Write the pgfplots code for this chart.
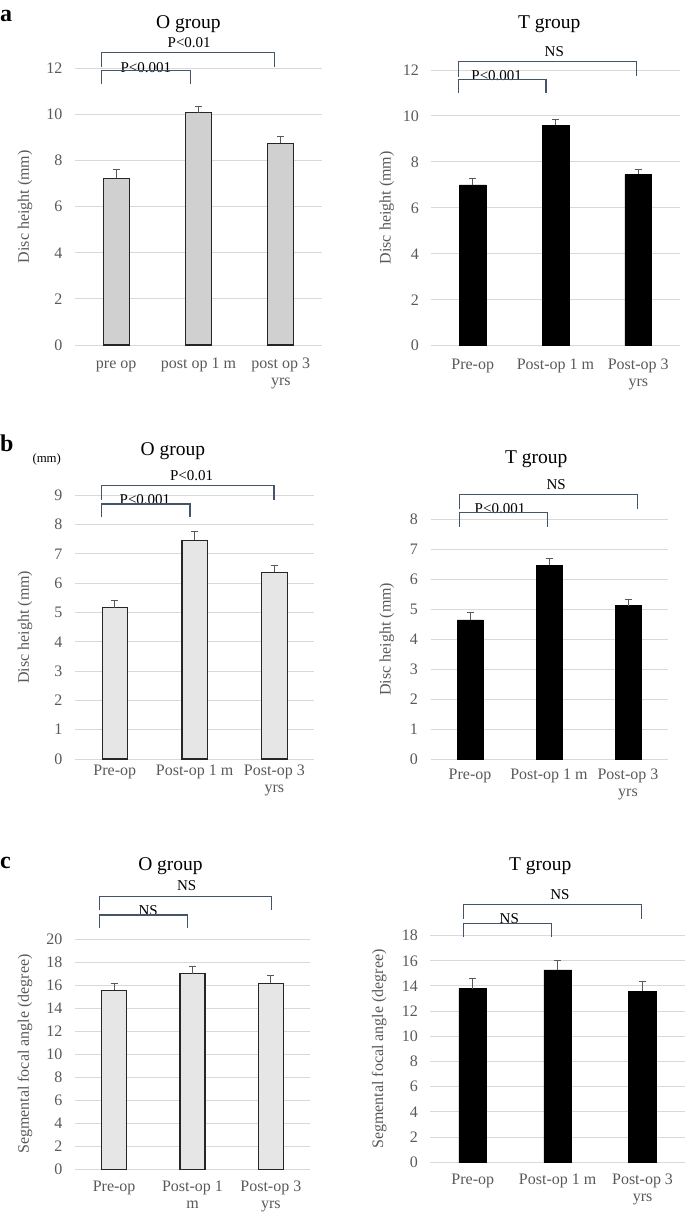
\documentclass[border=0pt]{standalone}
\usepackage{pgfplots}
\pgfplotsset{compat=1.18}
\usepackage{fontspec}
\setmainfont{Liberation Serif}
\definecolor{tickgray}{HTML}{595959}
\definecolor{gridgray}{HTML}{D9D9D9}
\definecolor{brkcol}{HTML}{44546A}
\definecolor{barA}{HTML}{D0D0D0}
\definecolor{barB}{HTML}{E7E6E6}

\pgfplotsset{
  panel/.style={
    scale only axis, anchor=south west, clip=false,
    xmin=-0.5, xmax=2.5, ymin=0, xtick={0,1,2},
    axis line style={draw=none}, major tick length=0pt,
    ymajorgrids, major grid style={gridgray, line width=1pt},
    tick label style={font=\fontsize{16}{17}\selectfont, text=tickgray},
    yticklabel style={xshift=-9pt},
    xticklabel style={align=center, anchor=north},
    /pgf/number format/assume math mode=true,
    every axis y label/.style={rotate=90, anchor=center,
      font=\fontsize{16}{18}\selectfont, text=tickgray},
  },
  errs/.style={
    error bars/y dir=plus, error bars/y explicit,
    error bars/error bar style={tickgray, line width=0.9pt},
    error bars/error mark options={rotate=90, tickgray, mark size=3.5pt, line width=0.9pt}},
  obar/.style={ybar, bar width=#1, fill=barA, draw=black!85, line width=1.1pt, errs},
  tbar/.style={ybar, bar width=#1, fill=black, draw=black, line width=0.5pt, errs},
}
\tikzset{
  brk/.style={brkcol, line width=1.2pt},
  ptxt/.style={anchor=base, font=\fontsize{15}{15}\selectfont},
}

\begin{document}
\begin{tikzpicture}
\useasboundingbox (0pt,0pt) rectangle (685pt,-1216pt);

% ---------- a, O group
\begin{axis}[panel, at={(75pt,-345pt)}, width=247pt, height=276.7pt,
  ymax=12, ytick={0,2,...,12},
  xticklabel style={yshift=-8pt},
  xticklabels={\strut pre op, \strut post op 1 m, {\strut post op 3\\yrs}},
  ylabel={Disc height (mm)},
  ylabel style={at={(axis description cs:-0.2024,0.5)}}]
\addplot[obar=26pt] coordinates {(0,7.23) +- (0,0.39) (1,10.07) +- (0,0.29) (2,8.75) +- (0,0.31)};
\node[ptxt] at (axis cs:0.887,12.89) {P<0.01};
\node[ptxt] at (axis cs:0.36,11.82) {P<0.001};
\draw[brk] (axis cs:-0.174,12.07) -- (axis cs:-0.174,12.69) -- (axis cs:1.92,12.69) -- (axis cs:1.92,12.07);
\draw[brk] (axis cs:-0.174,11.3) -- (axis cs:-0.174,11.9) -- (axis cs:0.9,11.9) -- (axis cs:0.9,11.3);
\end{axis}

% ---------- a, T group
\begin{axis}[panel, at={(431.3pt,-345.7pt)}, width=248.4pt, height=275.7pt,
  ymax=12, ytick={0,2,...,12},
  xticklabel style={yshift=-8pt},
  xticklabels={\strut Pre-op, \strut Post-op 1 m, {\strut Post-op 3\\yrs}},
  ylabel={Disc height (mm)},
  ylabel style={at={(axis description cs:-0.1796,0.5)}}]
\addplot[tbar=26.7pt] coordinates {(0,7.0) +- (0,0.29) (1,9.6) +- (0,0.26) (2,7.46) +- (0,0.22)};
\node[ptxt] at (axis cs:0.985,12.59) {NS};
\node[ptxt] at (axis cs:0.29,11.55) {P<0.001};
\draw[brk] (axis cs:-0.174,11.71) -- (axis cs:-0.174,12.38) -- (axis cs:1.98,12.38) -- (axis cs:1.98,11.72);
\draw[brk] (axis cs:-0.174,11.0) -- (axis cs:-0.174,11.6) -- (axis cs:0.885,11.6) -- (axis cs:0.885,11.0);
\end{axis}

% ---------- b, O group
\begin{axis}[panel, at={(74.9pt,-759pt)}, width=239.4pt, height=263.7pt,
  ymax=9, ytick={0,1,...,9},
  xticklabel style={yshift=-1pt},
  xticklabels={\strut Pre-op, \strut Post-op 1 m, {\strut Post-op 3\\yrs}},
  ylabel={Disc height (mm)},
  ylabel style={at={(axis description cs:-0.2084,0.5)}}]
\addplot[obar=25.3pt, fill=barB] coordinates {(0,5.16) +- (0,0.25) (1,7.47) +- (0,0.28) (2,6.37) +- (0,0.24)};
\node[anchor=base, font=\fontsize{12.8}{13}\selectfont] at (axis cs:-0.853,10.11) {(mm)};
\node[ptxt] at (axis cs:0.963,9.49) {P<0.01};
\node[ptxt] at (axis cs:0.378,8.68) {P<0.001};
\draw[brk] (axis cs:-0.164,8.84) -- (axis cs:-0.164,9.33) -- (axis cs:1.995,9.33) -- (axis cs:1.995,8.84);
\draw[brk] (axis cs:-0.164,8.25) -- (axis cs:-0.164,8.7) -- (axis cs:0.942,8.7) -- (axis cs:0.942,8.25);
\end{axis}

% ---------- b, T group
\begin{axis}[panel, at={(430.5pt,-759pt)}, width=237pt, height=239.7pt,
  ymax=8, ytick={0,1,...,8},
  xticklabel style={yshift=-5pt},
  xticklabels={\strut Pre-op, \strut Post-op 1 m, {\strut Post-op 3\\yrs}},
  ylabel={Disc height (mm)},
  ylabel style={at={(axis description cs:-0.1848,0.5)}}]
\addplot[tbar=25.5pt] coordinates {(0,4.64) +- (0,0.24) (1,6.46) +- (0,0.25) (2,5.12) +- (0,0.22)};
\node[ptxt] at (axis cs:1.09,9.0) {NS};
\node[ptxt] at (axis cs:0.38,8.2) {P<0.001};
\draw[brk] (axis cs:-0.135,8.33) -- (axis cs:-0.135,8.82) -- (axis cs:2.12,8.82) -- (axis cs:2.12,8.33);
\draw[brk] (axis cs:-0.135,7.75) -- (axis cs:-0.135,8.22) -- (axis cs:0.978,8.22) -- (axis cs:0.978,7.75);
\end{axis}

% ---------- c, O group
\begin{axis}[panel, at={(75pt,-1169.3pt)}, width=235pt, height=230.3pt,
  ymax=20, ytick={0,2,...,20},
  xticklabel style={yshift=-7pt},
  xticklabels={\strut Pre-op, {\strut Post-op 1\\m}, {\strut Post-op 3\\yrs}},
  ylabel={Segmental focal angle (degree)},
  ylabel style={at={(axis description cs:-0.2128,0.5)}}]
\addplot[obar=25pt, fill=barB] coordinates {(0,15.54) +- (0,0.63) (1,16.98) +- (0,0.67) (2,16.17) +- (0,0.67)};
\node[ptxt] at (axis cs:0.926,24.25) {NS};
\node[ptxt] at (axis cs:0.435,22.0) {NS};
\draw[brk] (axis cs:-0.19,22.5) -- (axis cs:-0.19,23.66) -- (axis cs:2.01,23.66) -- (axis cs:2.01,22.5);
\draw[brk] (axis cs:-0.19,20.97) -- (axis cs:-0.19,22.08) -- (axis cs:0.94,22.08) -- (axis cs:0.94,20.97);
\end{axis}

% ---------- c, T group
\begin{axis}[panel, at={(430.3pt,-1162.3pt)}, width=254.7pt, height=226.7pt,
  ymax=18, ytick={0,2,...,18},
  xticklabel style={yshift=-7pt},
  xticklabels={\strut Pre-op, \strut Post-op 1 m, {\strut Post-op 3\\yrs}},
  ylabel={Segmental focal angle (degree)},
  ylabel style={at={(axis description cs:-0.2002,0.5)}}]
\addplot[tbar=27.7pt] coordinates {(0,13.79) +- (0,0.79) (1,15.27) +- (0,0.74) (2,13.58) +- (0,0.82)};
\node[ptxt] at (axis cs:1.026,20.83) {NS};
\node[ptxt] at (axis cs:0.43,18.95) {NS};
\draw[brk] (axis cs:-0.107,19.32) -- (axis cs:-0.107,20.44) -- (axis cs:1.99,20.44) -- (axis cs:1.99,19.32);
\draw[brk] (axis cs:-0.107,17.92) -- (axis cs:-0.107,18.98) -- (axis cs:0.93,18.98) -- (axis cs:0.93,17.92);
\end{axis}

% titles and panel letters
\begin{scope}[every node/.style={anchor=base, font=\fontsize{19.5}{20}\selectfont}]
\node at (188.3pt,-28.3pt) {O group};
\node at (549.2pt,-28.3pt) {T group};
\node at (172.8pt,-455pt) {O group};
\node at (536.3pt,-463.3pt) {T group};
\node at (170.5pt,-870pt) {O group};
\node at (540.2pt,-870pt) {T group};
\end{scope}
\begin{scope}[every node/.style={anchor=base west, inner sep=0pt, font=\fontsize{24}{24}\selectfont\bfseries}]
\node at (0pt,-21.7pt) {a};
\node at (0pt,-451.7pt) {b};
\node at (0pt,-868.3pt) {c};
\end{scope}
\end{tikzpicture}
\end{document}
